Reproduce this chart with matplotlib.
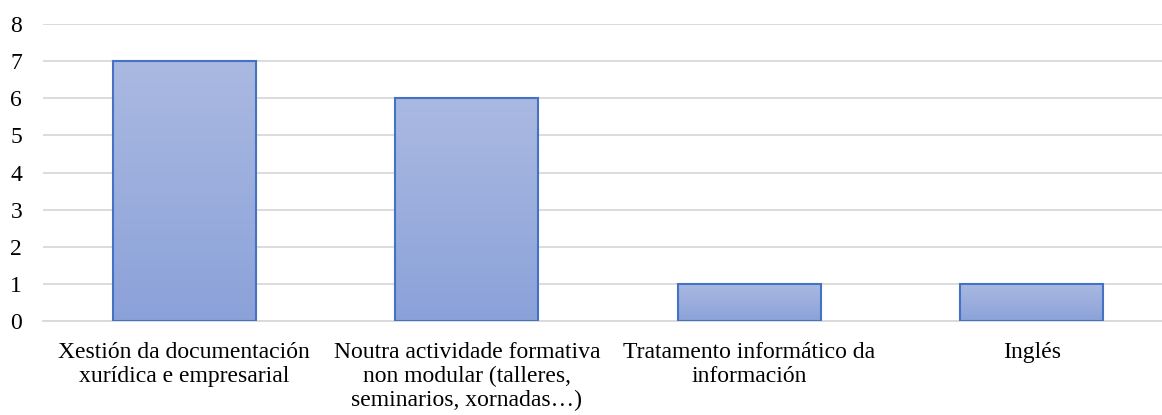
import numpy as np
import matplotlib.pyplot as plt
from matplotlib.colors import LinearSegmentedColormap

categories = ["Xestión da documentación\nxurídica e empresarial",
              "Noutra actividade formativa\nnon modular (talleres,\nseminarios, xornadas…)",
              "Tratamento informático da\ninformación",
              "Inglés"]
values = [7, 6, 1, 1]

plt.rcParams['font.family'] = ['Liberation Serif', 'DejaVu Serif']

fig = plt.figure(figsize=(11.62, 4.15), dpi=100)
# plot area runs a bit past the right edge, as in the source image
ax = fig.add_axes([0.037, 0.2265, 0.9725, 0.7155])

x = np.arange(len(categories))
bars = ax.bar(x, values, width=0.506, facecolor='none', edgecolor='#4472C4', linewidth=1.5, zorder=3)

# gradient fill, light on top, darker at bottom, per bar
cmap = LinearSegmentedColormap.from_list('g', ['#8BA2D9', '#AAB9E1'])
grad = np.linspace(0, 1, 256).reshape(-1, 1)
for b in bars:
    x0, y0 = b.get_x(), b.get_y()
    w, h = b.get_width(), b.get_height()
    im = ax.imshow(grad, cmap=cmap, aspect='auto', origin='lower',
                   extent=[x0, x0 + w, y0, y0 + h], zorder=2)
    im.set_clip_path(b)

ax.set_xlim(-0.5, len(categories) - 0.5)
ax.set_ylim(0, 8)
ax.set_yticks(range(0, 9))
ax.yaxis.grid(True, color='#D9D9D9', linewidth=1.3, zorder=0)
ax.set_axisbelow(True)
for s in ['top', 'right', 'left']:
    ax.spines[s].set_visible(False)
ax.spines['bottom'].set_color('#D9D9D9')
ax.spines['bottom'].set_linewidth(1.3)
ax.tick_params(axis='both', length=0, labelsize=17, colors='black')
ax.tick_params(axis='y', pad=15)
ax.tick_params(axis='x', pad=15)
ax.set_xticks(x)
ax.set_xticklabels(categories, linespacing=1.18)

fig.savefig('out.png', dpi=100)
